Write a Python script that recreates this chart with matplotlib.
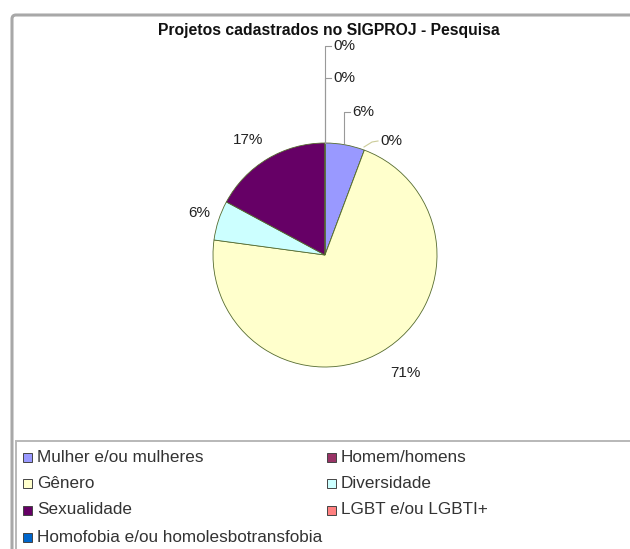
import numpy as np
import matplotlib
matplotlib.use("Agg")
import matplotlib.pyplot as plt
from matplotlib.patches import FancyBboxPatch, Rectangle

# data
categories = ["Mulher e/ou mulheres", "Homem/homens", "Gênero", "Diversidade",
              "Sexualidade", "LGBT e/ou LGBTI+", "Homofobia e/ou homolesbotransfobia"]
counts = [2, 0, 25, 2, 6, 0, 0]
colors = ["#9999FF", "#993366", "#FFFFCC", "#CCFFFF", "#660066", "#FF8080", "#0066CC"]
title = "Projetos cadastrados no SIGPROJ - Pesquisa"

plt.rcParams['font.family'] = ['Liberation Sans', 'DejaVu Sans']

W, H = 630, 549
fig = plt.figure(figsize=(W / 100, H / 100), dpi=100)
ax = fig.add_axes([0, 0, 1, 1])
ax.set_xlim(0, W)
ax.set_ylim(0, H)
ax.set_aspect('equal')
ax.axis('off')

def Y(y):
    return H - y

# outer frame
ax.add_patch(FancyBboxPatch((12, Y(560)), 640, 545, boxstyle="round,pad=0,rounding_size=4",
                            fill=False, ec="#a8a8a8", lw=2.2))
# legend frame
ax.add_patch(Rectangle((16, Y(560)), 640, 119, fill=False, ec="#b8b8b8", lw=1.4))

ax.text(329, Y(30), title, ha='center', va='center', fontsize=11.3, fontweight='bold',
        color='#111111')

cx, cy, r = 325, 255, 112
wedges, _ = ax.pie(counts, colors=colors, startangle=90, counterclock=False,
                   center=(cx, Y(cy)), radius=r,
                   wedgeprops=dict(edgecolor='#556b2f', linewidth=0.6))
ax.set_xlim(0, W)
ax.set_ylim(0, H)

total = sum(counts)
pcts = ["%d%%" % round(100 * c / total) for c in counts]

lc = '#999999'
fs = 11
tc = '#222222'
# Mulher 6%
ax.plot([344, 344, 350], [Y(143), Y(112), Y(112)], color=lc, lw=0.8)
ax.text(352, Y(112), pcts[0], ha='left', va='center', fontsize=fs, color=tc)
# Homem 0%
ax.plot([364, 372, 378], [Y(147), Y(142), Y(141)], color='#cccc99', lw=0.8)
ax.text(380, Y(141), pcts[1], ha='left', va='center', fontsize=fs, color=tc)
# Genero 71%
ax.text(405, Y(373), pcts[2], ha='center', va='center', fontsize=fs, color=tc)
# Diversidade 6%
ax.text(199, Y(213), pcts[3], ha='center', va='center', fontsize=fs, color=tc)
# Sexualidade 17%
ax.text(248, Y(140), pcts[4], ha='center', va='center', fontsize=fs, color=tc)
# LGBT 0%
ax.plot([325, 325, 331], [Y(143), Y(78), Y(78)], color=lc, lw=0.8)
ax.text(333, Y(78), pcts[5], ha='left', va='center', fontsize=fs, color=tc)
# Homofobia 0%
ax.plot([325, 325, 331], [Y(143), Y(46), Y(46)], color=lc, lw=0.8)
ax.text(333, Y(46), pcts[6], ha='left', va='center', fontsize=fs, color=tc)

# legend
rows = [457, 483, 510, 537]
cols = [23, 327]
for i, (name, col) in enumerate(zip(categories, colors)):
    x = cols[i % 2]
    y = rows[i // 2]
    ax.add_patch(Rectangle((x, Y(y) - 4.5), 9, 9, fc=col, ec='#444444', lw=0.7))
    ax.text(x + 14, Y(y), name, ha='left', va='center', fontsize=12.3, color='#333333')

fig.savefig("out.png", dpi=100)
